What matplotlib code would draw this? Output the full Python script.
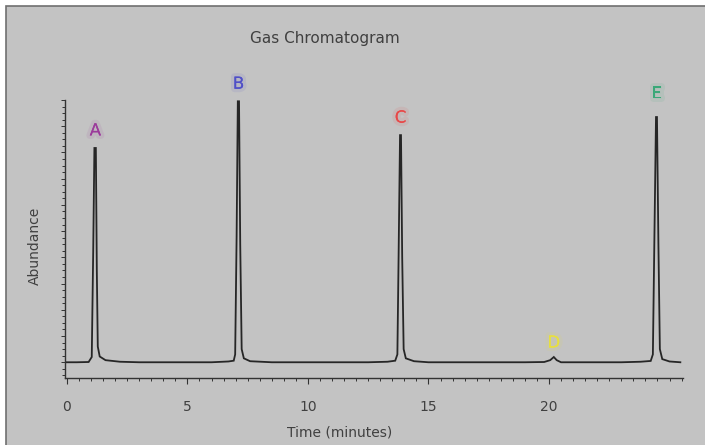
import matplotlib
matplotlib.use("Agg")
import matplotlib.pyplot as plt
import matplotlib.patheffects as pe
from matplotlib.patches import Rectangle
from matplotlib.ticker import MultipleLocator

# peak labels and where they sit
peak_names = ["A", "B", "C", "D", "E"]
peak_times = [1.18, 7.12, 13.84, 20.2, 24.46]
peak_heights = [0.817, 0.995, 0.866, 0.02, 0.935]
peak_colors = ["#9b3a9b", "#5050c8", "#e84848", "#e8e040", "#3aa878"]

# detector trace (minutes, abundance)
trace_time = [
    -0.08, 0.4, 0.9, 1.03, 1.09, 1.14, 1.20, 1.24, 1.28, 1.36, 1.6, 2.2, 3.0, 4.0, 5.0, 6.0, 6.7,
    6.92, 6.98, 7.04, 7.09, 7.14, 7.19, 7.25, 7.34, 7.6, 8.5, 9.5, 10.5, 11.5, 12.5, 13.3,
    13.62, 13.71, 13.76, 13.82, 13.86, 13.91, 13.97, 14.06, 14.4, 15.0, 16.0, 17.0, 18.0, 19.0, 19.8,
    20.05, 20.2, 20.32, 20.5, 21.0, 22.0, 23.0, 23.8,
    24.22, 24.31, 24.37, 24.44, 24.48, 24.54, 24.60, 24.70, 25.0, 25.45,
]
trace_abund = [
    0.0, 0.0, 0.001, 0.02, 0.42, 0.817, 0.817, 0.35, 0.06, 0.022, 0.008, 0.002, 0.0, 0.0, 0.0, 0.0, 0.003,
    0.006, 0.03, 0.48, 0.995, 0.995, 0.45, 0.05, 0.015, 0.004, 0.0, 0.0, 0.0, 0.0, 0.0, 0.002,
    0.006, 0.03, 0.4, 0.866, 0.866, 0.4, 0.05, 0.015, 0.004, 0.0, 0.0, 0.0, 0.0, 0.0, 0.001,
    0.008, 0.02, 0.008, 0.0, 0.0, 0.0, 0.0, 0.002,
    0.005, 0.03, 0.45, 0.935, 0.935, 0.45, 0.05, 0.012, 0.003, 0.0,
]

bg = "#c3c3c3"
txt = "#404040"

fig = plt.figure(figsize=(7.05, 4.45), dpi=100, facecolor="white")
fig.patches.append(Rectangle((6 / 705, -0.05), 1.1, 1 - 6 / 445 + 0.05,
                             transform=fig.transFigure, facecolor=bg,
                             edgecolor="#707070", linewidth=1.2, zorder=-10))

ax = fig.add_axes([65 / 705, 1 - 378 / 445, (683 - 65) / 705, (378 - 100) / 445])
ax.set_facecolor("none")
ax.plot(trace_time, trace_abund, color="#262626", linewidth=1.3, solid_joinstyle="miter")

for name, t, h, c in zip(peak_names, peak_times, peak_heights, peak_colors):
    off = 0.09 if name == "E" else (0.055 if name == "D" else 0.067)
    ax.text(t, h + off, name, color=c, fontsize=12, ha="center", va="center",
            clip_on=False,
            path_effects=[pe.withStroke(linewidth=5, foreground=c, alpha=0.1),
                          pe.Normal()])

ax.set_xlim(-0.08, 25.56)
ax.set_ylim(-0.06, 1.0)
for s in ["top", "right"]:
    ax.spines[s].set_visible(False)
for s in ["left", "bottom"]:
    ax.spines[s].set_color("#333333")
    ax.spines[s].set_linewidth(1.0)

ax.xaxis.set_major_locator(MultipleLocator(5))
ax.xaxis.set_minor_locator(MultipleLocator(0.5))
ax.yaxis.set_major_locator(MultipleLocator(0.1))
ax.yaxis.set_minor_locator(MultipleLocator(0.025))
ax.tick_params(axis="x", which="major", length=4, width=0.8, color="#333333",
               labelsize=10, labelcolor=txt, pad=12)
ax.tick_params(axis="x", which="minor", length=2, width=0.7, color="#333333")
ax.tick_params(axis="y", which="both", length=2, width=0.7, color="#333333",
               left=True, labelleft=False)
ax.yaxis.set_tick_params(which="major", length=3)
ax.set_xticks([0, 5, 10, 15, 20])

fig.text(325 / 705, 1 - 38 / 445, "Gas Chromatogram", fontsize=11, color=txt,
         ha="center", va="center")
fig.text(340 / 705, 1 - 433 / 445, "Time (minutes)", fontsize=10, color=txt,
         ha="center", va="center")
fig.text(35 / 705, 1 - 246 / 445, "Abundance", fontsize=10, color=txt,
         ha="center", va="center", rotation=90)

fig.savefig("out.png", dpi=100, facecolor=fig.get_facecolor())
